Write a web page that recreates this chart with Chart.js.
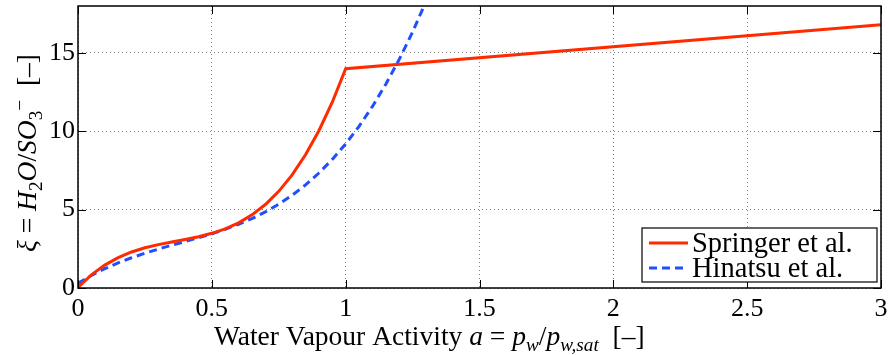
<!DOCTYPE html>
<html>
<head>
<meta charset="utf-8">
<script src="https://cdn.jsdelivr.net/npm/chart.js@4"></script>
<style>
  html, body { margin: 0; padding: 0; background: #fff; }
  canvas { display: block; }
  .probe { position: absolute; left: -999px; top: 0; font-family: "Liberation Serif"; }
</style>
</head>
<body>
<span class="probe">0 <i>a</i></span>
<canvas id="chart" width="890" height="355"></canvas>
<script>
// water uptake curves, lambda vs water activity
const springerA = [0, 0.05, 0.1, 0.15, 0.2, 0.25, 0.3, 0.35, 0.4, 0.45, 0.5,
  0.55, 0.6, 0.65, 0.7, 0.75, 0.8, 0.85, 0.9, 0.95, 1.0, 3.0];
const springerXi = [0.04, 0.84, 1.46, 1.94, 2.30, 2.57, 2.77, 2.94, 3.10, 3.27, 3.49,
  3.77, 4.16, 4.67, 5.33, 6.17, 7.22, 8.50, 10.04, 11.86, 14.0, 16.8];

const hinatsuA = [0, 0.05, 0.1, 0.15, 0.2, 0.25, 0.3, 0.35, 0.4, 0.45, 0.5,
  0.55, 0.6, 0.65, 0.7, 0.75, 0.8, 0.85, 0.9, 0.95, 1.0,
  1.05, 1.1, 1.15, 1.2, 1.25, 1.3];
const hinatsuXi = [0.30, 0.80, 1.23, 1.61, 1.93, 2.22, 2.48, 2.73, 2.96, 3.21, 3.46,
  3.75, 4.07, 4.43, 4.86, 5.35, 5.92, 6.58, 7.34, 8.21, 9.20,
  10.32, 11.59, 13.01, 14.59, 16.34, 18.28];

const seriesNames = ['Springer et al.', 'Hinatsu et al.'];
const xTicks = [0, 0.5, 1, 1.5, 2, 2.5, 3];
const yTicks = [0, 5, 10, 15];

const SERIF = '"Liberation Serif"';
const RED = '#ff2a00';
const BLUE = '#1f4fff';

function toPoints(xs, ys) {
  return xs.map((x, i) => ({ x: x, y: ys[i] }));
}

// draws a run of text pieces, some italic, some lowered or raised
function richWidth(ctx, segs, size) {
  let w = 0;
  segs.forEach(s => {
    const fs = (s.sub || s.sup) ? size * 0.7 : size;
    ctx.font = (s.it ? 'italic ' : '') + fs + 'px ' + SERIF;
    w += ctx.measureText(s.t).width;
  });
  return w;
}
function drawRich(ctx, segs, x, y, size) {
  let cx = x;
  segs.forEach(s => {
    const fs = (s.sub || s.sup) ? size * 0.7 : size;
    ctx.font = (s.it ? 'italic ' : '') + fs + 'px ' + SERIF;
    let dy = 0;
    if (s.sub) dy = size * 0.22;
    if (s.sup) dy = -size * 0.38;
    ctx.fillText(s.t, cx, y + dy);
    cx += ctx.measureText(s.t).width;
  });
}

const xLabel = [
  { t: 'Water Vapour Activity ' }, { t: 'a', it: true }, { t: ' = ' },
  { t: 'p', it: true }, { t: 'w', it: true, sub: true }, { t: '/' },
  { t: 'p', it: true }, { t: 'w,sat', it: true, sub: true }, { t: '  [\u2013]' }
];
const yLabel = [
  { t: '\u03be', it: true }, { t: ' = ' }, { t: 'H', it: true }, { t: '2', sub: true },
  { t: 'O', it: true }, { t: '/' }, { t: 'SO', it: true }, { t: '3', sub: true },
  { t: '\u2212', sup: true }, { t: '  [\u2013]' }
];

const framePlugin = {
  id: 'frame',
  afterDatasetsDraw(chart) {
    const ctx = chart.ctx;
    const a = chart.chartArea;
    const xs = chart.scales.x, ys = chart.scales.y;
    ctx.save();
    ctx.strokeStyle = '#000';
    ctx.lineWidth = 1.5;
    ctx.strokeRect(a.left, a.top, a.right - a.left, a.bottom - a.top);
    ctx.lineWidth = 1;
    const len = 8;
    ctx.beginPath();
    xTicks.forEach(v => {
      const px = Math.round(xs.getPixelForValue(v)) + 0.5;
      ctx.moveTo(px, a.bottom); ctx.lineTo(px, a.bottom - len);
      ctx.moveTo(px, a.top); ctx.lineTo(px, a.top + len);
    });
    yTicks.forEach(v => {
      const py = Math.round(ys.getPixelForValue(v)) + 0.5;
      ctx.moveTo(a.left, py); ctx.lineTo(a.left + len, py);
      ctx.moveTo(a.right, py); ctx.lineTo(a.right - len, py);
    });
    ctx.stroke();
    ctx.restore();
  },
  afterDraw(chart) {
    const ctx = chart.ctx;
    ctx.save();
    ctx.fillStyle = '#000';
    ctx.textBaseline = 'alphabetic';

    // axis titles
    const lsz = 27.5;
    drawRich(ctx, xLabel, 214, 345, lsz);

    ctx.save();
    ctx.translate(36, 153);
    ctx.rotate(-Math.PI / 2);
    const yw = richWidth(ctx, yLabel, lsz);
    drawRich(ctx, yLabel, -yw / 2, 0, lsz);
    ctx.restore();

    // legend box
    const bx = 642, by = 228, bw = 235, bh = 54;
    ctx.fillStyle = '#fff';
    ctx.fillRect(bx, by, bw, bh);
    ctx.strokeStyle = '#000';
    ctx.lineWidth = 1.2;
    ctx.strokeRect(bx, by, bw, bh);
    chart.data.datasets.forEach((ds, i) => {
      const ly = by + 15 + i * 25;
      ctx.strokeStyle = ds.borderColor;
      ctx.lineWidth = ds.borderWidth;
      ctx.setLineDash(ds.borderDash || []);
      ctx.beginPath();
      ctx.moveTo(bx + 7, ly);
      ctx.lineTo(bx + 46, ly);
      ctx.stroke();
      ctx.setLineDash([]);
      ctx.fillStyle = '#000';
      ctx.font = '28.5px ' + SERIF;
      ctx.fillText(ds.label, bx + 50, ly + 9);
    });
    ctx.restore();
  }
};

const gridStyle = {
  color: 'rgba(0,0,0,0.5)',
  lineWidth: 1,
  drawTicks: false
};

function build() {
  new Chart(document.getElementById('chart'), {
    type: 'line',
    data: {
      datasets: [{
        label: seriesNames[0],
        data: toPoints(springerA, springerXi),
        borderColor: RED,
        borderWidth: 3,
        pointRadius: 0,
        tension: 0,
        fill: false
      }, {
        label: seriesNames[1],
        data: toPoints(hinatsuA, hinatsuXi),
        borderColor: BLUE,
        borderWidth: 3,
        borderDash: [8, 5],
        pointRadius: 0,
        tension: 0,
        fill: false
      }]
    },
    options: {
      responsive: false,
      animation: false,
      devicePixelRatio: 1,
      layout: { padding: { top: 6, right: 9, left: 0, bottom: 0 } },
      plugins: { legend: { display: false }, tooltip: { enabled: false } },
      scales: {
        x: {
          type: 'linear',
          min: 0,
          max: 3,
          afterBuildTicks: s => { s.ticks = xTicks.map(v => ({ value: v })); },
          afterFit: s => {
            s.height = 67;
            s.paddingLeft = 0;
            s.paddingRight = 0;
          },
          border: { display: false, dash: [1, 3] },
          grid: gridStyle,
          ticks: {
            color: '#000',
            padding: 6,
            maxRotation: 0,
            callback: v => String(v),
            font: { family: SERIF, size: 26 }
          }
        },
        y: {
          type: 'linear',
          min: 0,
          max: 18,
          afterBuildTicks: s => { s.ticks = yTicks.map(v => ({ value: v })); },
          afterFit: s => {
            s.width = 78;
            s.paddingTop = 0;
            s.paddingBottom = 0;
          },
          border: { display: false, dash: [1, 3] },
          grid: gridStyle,
          ticks: {
            color: '#000',
            padding: 3,
            callback: v => String(v),
            font: { family: SERIF, size: 26 }
          }
        }
      }
    },
    plugins: [framePlugin]
  });
}

Promise.all([
  document.fonts.load('26px "Liberation Serif"'),
  document.fonts.load('italic 26px "Liberation Serif"')
]).then(build, build);
</script>
</body>
</html>
